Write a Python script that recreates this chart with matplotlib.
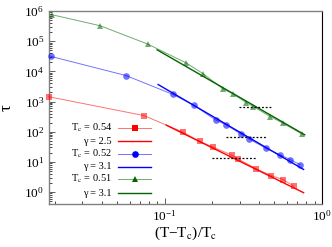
import matplotlib
matplotlib.use("Agg")
import matplotlib.pyplot as plt
from matplotlib.lines import Line2D
import numpy as np

plt.rcParams['font.family'] = 'serif'
plt.rcParams['font.serif'] = ['Liberation Serif', 'DejaVu Serif']
plt.rcParams['mathtext.fontset'] = 'stix'

# ---- data ----
red_x = [0.0183, 0.0738, 0.131, 0.167, 0.203, 0.269, 0.293, 0.383, 0.477, 0.567, 0.662]
red_y = [1450, 344, 97, 48, 31, 16.6, 12.6, 5.9, 3.5, 2.6, 1.59]
blue_x = [0.01896, 0.0569, 0.113, 0.154, 0.211, 0.247, 0.307, 0.344, 0.439, 0.539, 0.631, 0.728]
blue_y = [3.14e4, 7.28e3, 1.73e3, 750, 246, 169, 83, 58, 28.9, 17.4, 11.9, 8.1]
green_x = [0.0193, 0.0389, 0.0783, 0.1374, 0.1755, 0.235, 0.272, 0.331, 0.368, 0.471, 0.567, 0.751]
green_y = [7.56e5, 3.28e5, 8.04e4, 1.91e4, 8.47e3, 2.66e3, 1.82e3, 920, 680, 318, 192, 83]

# power-law fit lines (end points)
red_fit_x = [0.1026, 0.767]
red_fit_y = [165, 0.95]
blue_fit_x = [0.091, 0.767]
blue_fit_y = [3680, 5.6]
green_fit_x = [0.0897, 0.78]
green_fit_y = [5.2e4, 79]

# dashed reference segments
dash_y = [680, 66, 13.6]
dash_x0 = [0.297, 0.247, 0.200]
dash_x1 = [0.484, 0.439, 0.387]

labels_data = ["T$_\\mathrm{c}$ = 0.54", "T$_\\mathrm{c}$ = 0.52", "T$_\\mathrm{c}$ = 0.51"]
labels_fit = ["\u03b3 = 2.5", "\u03b3 = 3.1", "\u03b3 = 3.1"]

colors = ['#ff0000', '#0000ff', '#006400']
markers = ['s', 'o', '^']
msizes = [4.8, 4.8, 4.2]

fig = plt.figure(figsize=(3.32, 2.47), dpi=100)
ax = fig.add_axes([0.1476, 0.174, 0.9690 - 0.1476, 0.955 - 0.174])
ax.set_xscale('log')
ax.set_yscale('log')

series = [(red_x, red_y, red_fit_x, red_fit_y),
          (blue_x, blue_y, blue_fit_x, blue_fit_y),
          (green_x, green_y, green_fit_x, green_fit_y)]
for i, (sx, sy, fx, fy) in enumerate(series):
    ax.plot(sx, sy, color=colors[i], lw=0.7, alpha=0.55, marker=markers[i],
            markersize=msizes[i], markerfacecolor=colors[i], markeredgecolor=colors[i],
            markeredgewidth=0, clip_on=False, zorder=3)
    ax.plot(fx, fy, color=colors[i], lw=1.0, zorder=2)

for y, x0, x1 in zip(dash_y, dash_x0, dash_x1):
    ax.plot([x0, x1], [y, y], color='black', lw=0.9, ls=(0, (1.5, 1.5)), zorder=4)

ax.set_xlim(0.0184, 1.0)
ax.set_ylim(0.4, 1e6)

ax.tick_params(which='both', direction='in', top=False, right=False, labelsize=9.5)
ax.tick_params(which='major', length=4, width=0.7)
ax.tick_params(which='minor', length=2, width=0.5)
ax.xaxis.set_major_locator(matplotlib.ticker.LogLocator(base=10, numticks=10))
ax.yaxis.set_major_locator(matplotlib.ticker.LogLocator(base=10, numticks=10))
ax.xaxis.set_minor_locator(matplotlib.ticker.LogLocator(base=10, subs=np.arange(2, 10), numticks=10))
ax.yaxis.set_minor_locator(matplotlib.ticker.LogLocator(base=10, subs=np.arange(2, 10), numticks=10))
ax.xaxis.set_minor_formatter(matplotlib.ticker.NullFormatter())
ax.yaxis.set_minor_formatter(matplotlib.ticker.NullFormatter())
for s in ['left', 'bottom', 'top']:
    ax.spines[s].set_color('#808080')
    ax.spines[s].set_linewidth(1.0)
ax.spines['right'].set_color('black')
ax.spines['right'].set_linewidth(0.8)
ax.tick_params(colors='#606060', labelcolor='black')

ax.set_xlabel("(T\u2212T$_\\mathrm{c}$)/T$_\\mathrm{c}$", fontsize=11, labelpad=0.5)
ax.set_ylabel("\u03c4", fontsize=12, labelpad=7)

# legend (text on the left, sample on the right)
rows_y = [0.394, 0.326, 0.259, 0.192, 0.130, 0.057]
tx = 0.231
lx0, lx1, lxm = 0.253, 0.374, 0.314
for i in range(3):
    yd = rows_y[2 * i]
    yf = rows_y[2 * i + 1]
    ax.text(tx, yd, labels_data[i], transform=ax.transAxes, ha='right', va='center', fontsize=7.5)
    ax.text(tx, yf, labels_fit[i], transform=ax.transAxes, ha='right', va='center', fontsize=7.5)
    ax.add_line(Line2D([lx0, lx1], [yd, yd], transform=ax.transAxes, color=colors[i],
                       lw=0.7, alpha=0.55))
    ax.add_line(Line2D([lxm], [yd], transform=ax.transAxes, color=colors[i], marker=markers[i],
                       markersize=msizes[i], markeredgewidth=0, ls='none'))
    ax.add_line(Line2D([lx0, lx1], [yf, yf], transform=ax.transAxes, color=colors[i], lw=1.0))

fig.savefig("out.png", dpi=100)
